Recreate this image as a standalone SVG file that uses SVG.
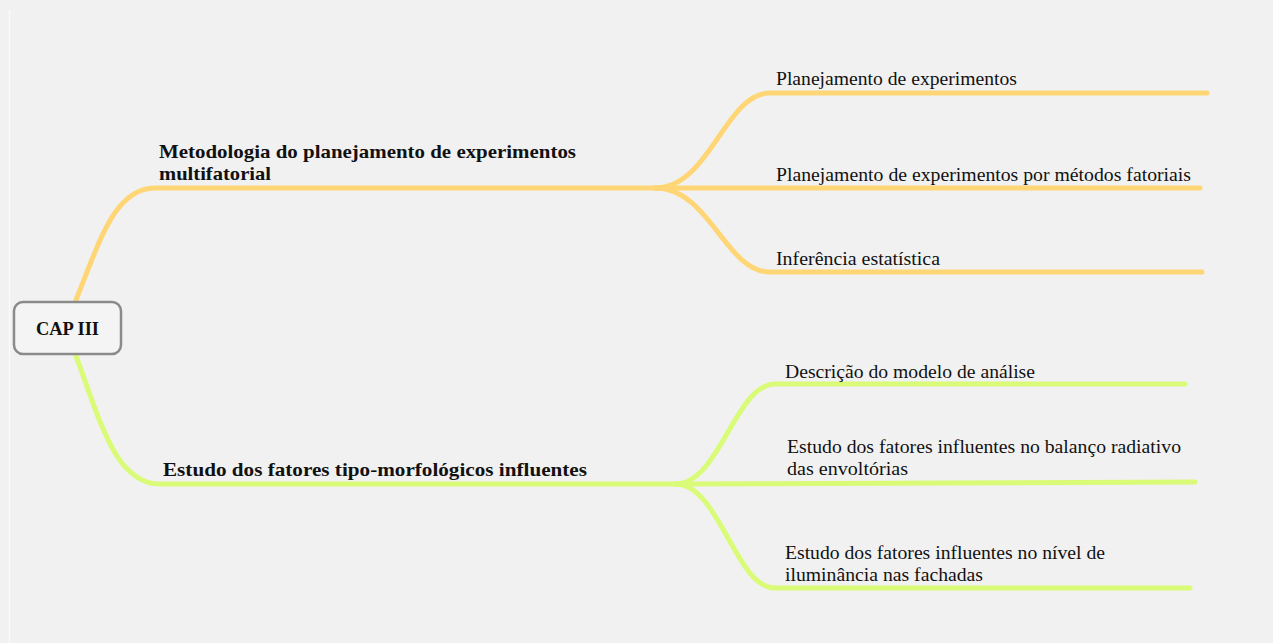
<svg xmlns="http://www.w3.org/2000/svg" width="1273" height="643" viewBox="0 0 1273 643">
<style>
.bg{fill:#f1f1f1}
.o{fill:none;stroke:#ffd675;stroke-width:5;stroke-linecap:round}
.g{fill:none;stroke:#d9fb78;stroke-width:5;stroke-linecap:round}
.t{font-family:"Liberation Serif",serif;font-size:18px;fill:#111;font-variant-ligatures:none}
.b{font-family:"Liberation Serif",serif;font-size:19px;font-weight:bold;fill:#111;font-variant-ligatures:none}
</style>
<rect class="bg" x="0" y="0" width="1273" height="643"/>
<line x1="9.5" y1="10" x2="9.5" y2="643" stroke="#fafafa" stroke-width="1.5"/>
<g id="connectors">
<path class="o" d="M76,300 C100,240 115,188 155,188 L655,188"/>
<path class="o" d="M655,188 C710,188 725,93 770,93 L1207,93"/>
<path class="o" d="M655,188 L1200,188"/>
<path class="o" d="M655,188 C710,188 725,272 770,272 L1202,272"/>
<path class="g" d="M76,356 C100,420 115,484 160,484 L675,484"/>
<path class="g" d="M675,484 C720,484 735,384 775,384 L1185,384"/>
<path class="g" d="M675,484 L1195,482"/>
<path class="g" d="M675,484 C720,484 735,588 775,588 L1190,588"/>
</g>
<g id="root">
<rect x="14" y="302" width="107" height="52" rx="9" fill="#f4f4f4" stroke="#8a8a8a" stroke-width="2.5"/>
<text class="b" x="67.5" y="335" text-anchor="middle" textLength="63" lengthAdjust="spacingAndGlyphs">CAP III</text>
</g>
<g id="metodologia">
<text class="b" x="159" y="158" textLength="417" lengthAdjust="spacingAndGlyphs">Metodologia do planejamento de experimentos</text>
<text class="b" x="159" y="180" textLength="112" lengthAdjust="spacingAndGlyphs">multifatorial</text>
</g>
<g id="planejamento">
<text class="t" x="776" y="85" textLength="241" lengthAdjust="spacingAndGlyphs">Planejamento de experimentos</text>
</g>
<g id="planejamento-fatoriais">
<text class="t" x="776" y="181" textLength="415" lengthAdjust="spacingAndGlyphs">Planejamento de experimentos por métodos fatoriais</text>
</g>
<g id="inferencia">
<text class="t" x="776" y="265" textLength="164" lengthAdjust="spacingAndGlyphs">Inferência estatística</text>
</g>
<g id="estudo">
<text class="b" x="163" y="476" textLength="424" lengthAdjust="spacingAndGlyphs">Estudo dos fatores tipo-morfológicos influentes</text>
</g>
<g id="descricao">
<text class="t" x="785" y="378" textLength="250" lengthAdjust="spacingAndGlyphs">Descrição do modelo de análise</text>
</g>
<g id="balanco">
<text class="t" x="787" y="453" textLength="394" lengthAdjust="spacingAndGlyphs">Estudo dos fatores influentes no balanço radiativo</text>
<text class="t" x="787" y="475" textLength="121" lengthAdjust="spacingAndGlyphs">das envoltórias</text>
</g>
<g id="iluminancia">
<text class="t" x="785" y="559" textLength="320" lengthAdjust="spacingAndGlyphs">Estudo dos fatores influentes no nível de</text>
<text class="t" x="785" y="581" textLength="198" lengthAdjust="spacingAndGlyphs">iluminância nas fachadas</text>
</g>
</svg>
